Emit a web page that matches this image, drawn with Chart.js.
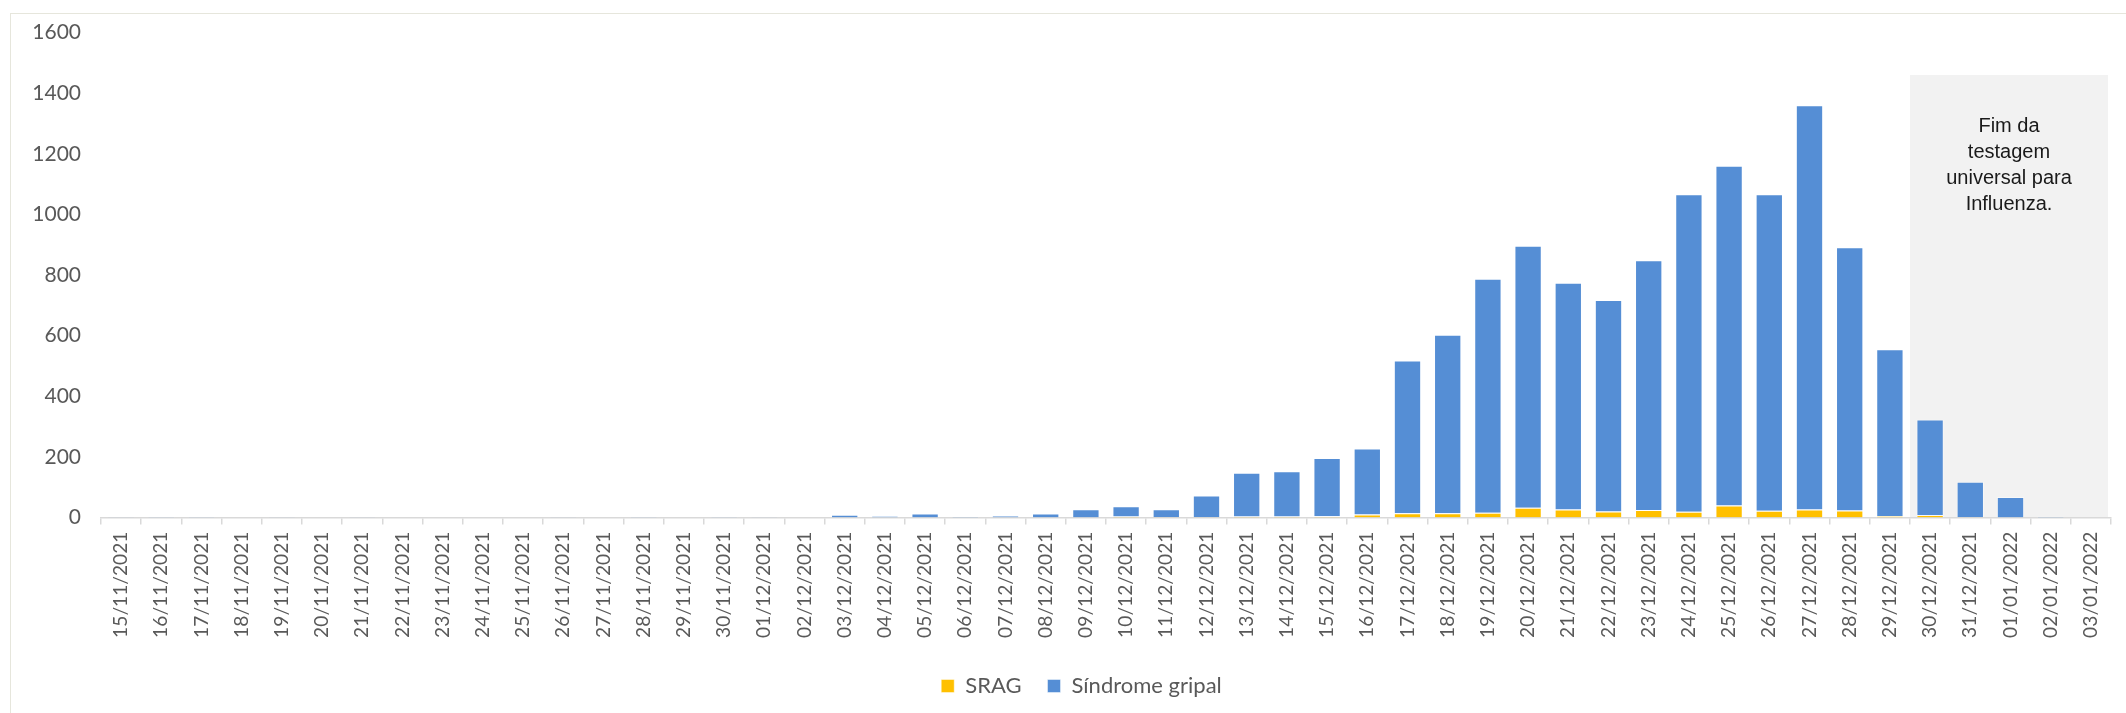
<!DOCTYPE html>
<html lang="pt-BR">
<head>
<meta charset="UTF-8">
<title>SRAG e Síndrome gripal por dia</title>
<script src="https://cdn.jsdelivr.net/npm/chart.js"></script>
<style>
  html, body { margin: 0; background: #fff; }
  .wrap { position: relative; width: 2126px; height: 713px; overflow: hidden; }
  .frame {
    position: absolute; left: 10px; top: 13px; right: -10px; bottom: -10px;
    border-left: 1.5px solid #e6e6dc; border-top: 1.5px solid #e6e6dc;
  }
  #grafico { position: absolute; left: 0; top: 0; }
</style>
</head>
<body>
<div class="wrap">
  <div class="frame"></div>
  <canvas id="grafico" width="2126" height="713"></canvas>
</div>
<script>
const dias = [
  '15/11/2021', '16/11/2021', '17/11/2021', '18/11/2021', '19/11/2021', '20/11/2021',
  '21/11/2021', '22/11/2021', '23/11/2021', '24/11/2021', '25/11/2021', '26/11/2021',
  '27/11/2021', '28/11/2021', '29/11/2021', '30/11/2021', '01/12/2021', '02/12/2021',
  '03/12/2021', '04/12/2021', '05/12/2021', '06/12/2021', '07/12/2021', '08/12/2021',
  '09/12/2021', '10/12/2021', '11/12/2021', '12/12/2021', '13/12/2021', '14/12/2021',
  '15/12/2021', '16/12/2021', '17/12/2021', '18/12/2021', '19/12/2021', '20/12/2021',
  '21/12/2021', '22/12/2021', '23/12/2021', '24/12/2021', '25/12/2021', '26/12/2021',
  '27/12/2021', '28/12/2021', '29/12/2021', '30/12/2021', '31/12/2021', '01/01/2022',
  '02/01/2022', '03/01/2022'
];

const srag = [
  0, 0, 0, 0, 0, 0, 0, 0, 0, 0, 0, 0, 0, 0, 0, 0, 0, 0,
  0, 0, 0, 0, 0, 0, 0, 3, 1, 1, 3, 3, 4, 10,
  14, 14, 16, 32, 26, 20, 25, 19, 40, 22, 26, 23, 5, 8,
  1, 0, 0, 0
];

const sindromeGripal = [
  1, 2, 2, 0, 1, 0, 1, 0, 0, 0, 0, 1, 0, 2, 0, 2, 1, 0,
  9, 5, 13, 4, 7, 13, 27, 34, 26, 72, 145, 150, 192, 218,
  504, 589, 772, 865, 749, 698, 824, 1048, 1121, 1045, 1334, 869, 550, 315,
  117, 68, 3, 0
];

const yMax = 1600;
const yPasso = 200;

// caixa cinza: "Fim da testagem universal para Influenza."
const inicioFimTestagem = '30/12/2021';
const topoCaixa = 1460;
const notaLinhas = ['Fim da', 'testagem', 'universal para', 'Influenza.'];

const caixaNota = {
  id: 'caixaNota',
  afterLayout(chart) {
    // legenda um pouco à direita, como no original
    chart.legend.left += 26;
    chart.legend.right += 26;
  },
  beforeDraw(chart) {
    const { ctx, chartArea } = chart;
    const x = chart.scales.x, y = chart.scales.y;
    const left = x.getPixelForValue(dias.indexOf(inicioFimTestagem) - 0.5);
    const right = chartArea.right - 3;
    const top = y.getPixelForValue(topoCaixa);
    const bottom = y.getPixelForValue(0);
    ctx.save();
    ctx.fillStyle = '#f2f2f2';
    ctx.fillRect(left, top, right - left, bottom - top);
    ctx.fillStyle = '#1a1a1a';
    ctx.font = '20px "Liberation Sans", Arial, sans-serif';
    ctx.textAlign = 'center';
    ctx.textBaseline = 'middle';
    notaLinhas.forEach((linha, k) => {
      ctx.fillText(linha, (left + right) / 2, top + 51 + k * 26);
    });
    ctx.restore();
  }
};

new Chart(document.getElementById('grafico'), {
  type: 'bar',
  data: {
    labels: dias,
    datasets: [
      {
        label: 'SRAG',
        data: srag,
        backgroundColor: '#ffc000',
        borderColor: 'rgba(255,255,255,0.45)',
        borderWidth: 1,
        barPercentage: 0.68,
        categoryPercentage: 1
      },
      {
        label: 'Síndrome gripal',
        data: sindromeGripal,
        backgroundColor: '#558ed5',
        borderColor: 'rgba(255,255,255,0.45)',
        borderWidth: 1,
        barPercentage: 0.68,
        categoryPercentage: 1
      }
    ]
  },
  options: {
    responsive: false,
    animation: false,
    layout: { padding: { left: 0, right: 15, top: 30, bottom: 6 } },
    plugins: {
      legend: {
        position: 'bottom',
        labels: {
          boxWidth: 13,
          boxHeight: 13,
          padding: 26,
          color: '#595959',
          font: { family: 'Lato', size: 22 }
        }
      },
      tooltip: { enabled: false }
    },
    scales: {
      x: {
        stacked: true,
        offset: true,
        grid: {
          offset: true,
          drawOnChartArea: false,
          drawTicks: true,
          tickLength: 7,
          color: '#d9d9d9',
          lineWidth: 1.5
        },
        border: { display: true, color: '#d9d9d9', width: 1.5 },
        ticks: {
          autoSkip: false,
          minRotation: 90,
          maxRotation: 90,
          padding: 7,
          color: '#595959',
          font: { family: 'Lato', size: 19.2 }
        },
        afterFit(scale) { scale.height = 131.5; }
      },
      y: {
        stacked: true,
        min: 0,
        max: yMax,
        ticks: {
          stepSize: yPasso,
          padding: 20,
          color: '#595959',
          font: { family: 'Lato', size: 21 },
          callback: (v) => String(v)
        },
        grid: { display: false, drawTicks: false },
        border: { display: false },
        afterFit(scale) { scale.width = 101; }
      }
    }
  },
  plugins: [caixaNota]
});
</script>
</body>
</html>
